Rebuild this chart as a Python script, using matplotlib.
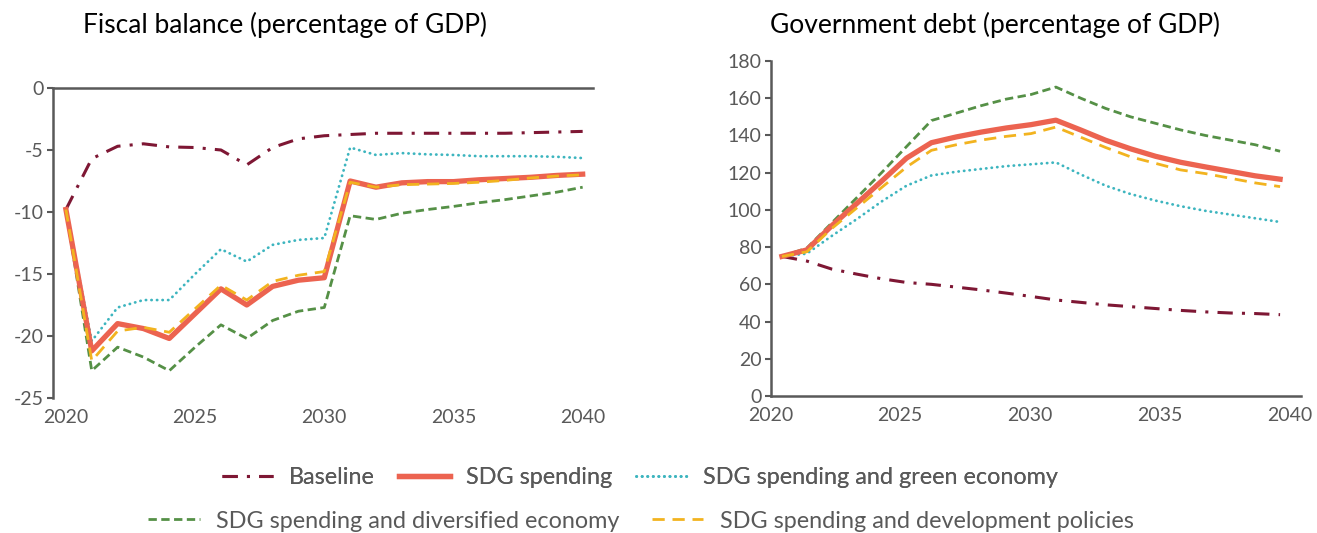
import matplotlib
matplotlib.use("Agg")
import matplotlib.pyplot as plt
from matplotlib.lines import Line2D
import numpy as np

plt.rcParams['font.family'] = ['Lato', 'DejaVu Sans']

years = list(range(2020, 2041))
tick_labels = ['2020', '2025', '2030', '2035', '2040']

series_names = ['Baseline', 'SDG spending', 'SDG spending and green economy',
                'SDG spending and diversified economy', 'SDG spending and development policies']

# Fiscal balance (% of GDP)
fb_baseline = [-9.8, -5.7, -4.7, -4.5, -4.75, -4.8, -5.0, -6.2, -4.8, -4.1, -3.85,
               -3.75, -3.65, -3.65, -3.65, -3.65, -3.65, -3.65, -3.6, -3.55, -3.5]
fb_sdg = [-9.8, -21.2, -19.0, -19.4, -20.2, -18.2, -16.2, -17.5, -16.0, -15.5, -15.3,
          -7.5, -8.0, -7.65, -7.55, -7.55, -7.4, -7.3, -7.2, -7.05, -6.95]
fb_green = [-9.8, -20.4, -17.7, -17.1, -17.1, -15.0, -13.0, -14.0, -12.65, -12.25, -12.1,
            -4.8, -5.4, -5.25, -5.35, -5.4, -5.5, -5.5, -5.5, -5.55, -5.65]
fb_divers = [-9.8, -22.8, -20.9, -21.7, -22.8, -20.9, -19.1, -20.2, -18.75, -18.0, -17.7,
             -10.3, -10.6, -10.1, -9.8, -9.55, -9.25, -9.0, -8.7, -8.4, -8.0]
fb_devpol = [-9.8, -22.0, -19.6, -19.3, -19.7, -17.8, -15.9, -17.1, -15.6, -15.1, -14.8,
             -7.6, -8.0, -7.8, -7.75, -7.7, -7.6, -7.45, -7.25, -7.1, -7.0]

# Government debt (% of GDP)
gd_baseline = [75, 72.5, 68.2, 65.5, 63, 61, 60, 58.5, 57, 55.3, 53.5,
               51.6, 50.3, 49, 48, 47, 46, 45.2, 44.6, 44.3, 43.7]
gd_sdg = [75, 78.5, 91.5, 103.4, 115.4, 127.8, 136.1, 139.2, 141.8, 144, 145.8,
          148.2, 142.9, 137.4, 132.8, 128.8, 125.6, 123.1, 120.7, 118.3, 116.5]
gd_green = [75, 76.5, 86, 95, 104.5, 113, 118.5, 120.5, 122, 123.5, 124.5,
            125.5, 119, 113, 108.5, 105, 102, 99.5, 97.5, 95.5, 93.5]
gd_divers = [75, 79.5, 93, 106.5, 120, 134, 148, 152, 156, 159.5, 162,
             166, 160, 154.5, 150, 146.5, 143, 140, 137.5, 135, 131.5]
gd_devpol = [75, 77.5, 90, 101, 112, 123, 132, 135, 137.5, 139.5, 141,
             144.5, 139, 133.5, 128.5, 125, 121.5, 119.5, 117, 114.5, 112.5]

colors = ['#7E1734', '#EC6350', '#3DB5BF', '#559046', '#F2B31F']
styles = [
    dict(lw=2.2, dashes=(5, 3, 1, 3)),
    dict(lw=3.8, linestyle='-'),
    dict(lw=2.0, dashes=(0.1, 1.9), dash_capstyle='round'),
    dict(lw=2.0, dashes=(3.0, 1.6)),
    dict(lw=2.0, dashes=(4.4, 2.8)),
]

grey = '#595959'
W, H = 1317, 533
fig = plt.figure(figsize=(W / 100, H / 100), dpi=100)

def px_axes(l, t, r, b):
    return fig.add_axes([l / W, 1 - b / H, (r - l) / W, (b - t) / H])

ax1 = px_axes(53, 88, 593, 398)
ax2 = px_axes(771, 61, 1301, 396)

idx = np.arange(len(years))
fb = [fb_baseline, fb_sdg, fb_green, fb_divers, fb_devpol]
gd = [gd_baseline, gd_sdg, gd_green, gd_divers, gd_devpol]
draw_order = [3, 2, 0, 1, 4]

for i in draw_order:
    ax1.plot(idx, fb[i], color=colors[i], **styles[i], zorder=3 + (1 if i == 4 else 0))
    ax2.plot(idx, gd[i], color=colors[i], **styles[i], zorder=3 + (1 if i == 4 else 0))

# Left axes: x axis line at 0 (top), labels at bottom
ax1.set_xlim(-0.5, 20.4)
ax1.set_ylim(-25, 0)
ax1.set_yticks([0, -5, -10, -15, -20, -25])
ax1.set_yticklabels(['0', '-5', '-10', '-15', '-20', '-25'])
ax1.set_xticks([0, 5, 10, 15, 20])
ax1.set_xticklabels(tick_labels)
for s in ['right', 'bottom']:
    ax1.spines[s].set_visible(False)
for s in ['left', 'top']:
    ax1.spines[s].set_color(grey)
    ax1.spines[s].set_linewidth(1.8)
ax1.tick_params(axis='x', length=0, pad=8, labelsize=14, labelcolor=grey)
ax1.tick_params(axis='y', length=4, width=1.5, color=grey, pad=3, labelsize=14, labelcolor=grey)

# Right axes
ax2.set_xlim(-0.44, 20.84)
ax2.set_ylim(0, 180)
ax2.set_yticks(np.arange(0, 181, 20))
ax2.set_xticks([-0.44, 4.74, 9.96, 15.18, 20.40])
ax2.set_xticklabels(tick_labels)
for s in ['right', 'top']:
    ax2.spines[s].set_visible(False)
for s in ['left', 'bottom']:
    ax2.spines[s].set_color(grey)
    ax2.spines[s].set_linewidth(1.8)
ax2.tick_params(axis='x', length=0, pad=8, labelsize=14, labelcolor=grey)
ax2.tick_params(axis='y', length=4, width=1.5, color=grey, pad=3, labelsize=14, labelcolor=grey)

for ax in (ax1, ax2):
    ax.set_facecolor('none')

fig.text(285 / W, 1 - 25 / H, 'Fiscal balance (percentage of GDP)', ha='center', va='center',
         fontsize=19, color='black')
fig.text(995 / W, 1 - 25 / H, 'Government debt (percentage of GDP)', ha='center', va='center',
         fontsize=19, color='black')

handles = [Line2D([0], [0], color=colors[i], **styles[i]) for i in range(5)]

leg1 = fig.legend(handles[:3], series_names[:3], loc='center', bbox_to_anchor=(640 / W, 1 - 478 / H),
                  ncol=3, frameon=False, fontsize=16.8, handlelength=2.2, columnspacing=1.0,
                  handletextpad=0.7, labelcolor=grey)
leg2 = fig.legend(handles[3:], series_names[3:], loc='center', bbox_to_anchor=(641 / W, 1 - 521 / H),
                  ncol=2, frameon=False, fontsize=16.8, handlelength=2.2, columnspacing=1.4,
                  handletextpad=0.7, labelcolor=grey)
fig.add_artist(leg1)

fig.savefig('out.png', dpi=100)
